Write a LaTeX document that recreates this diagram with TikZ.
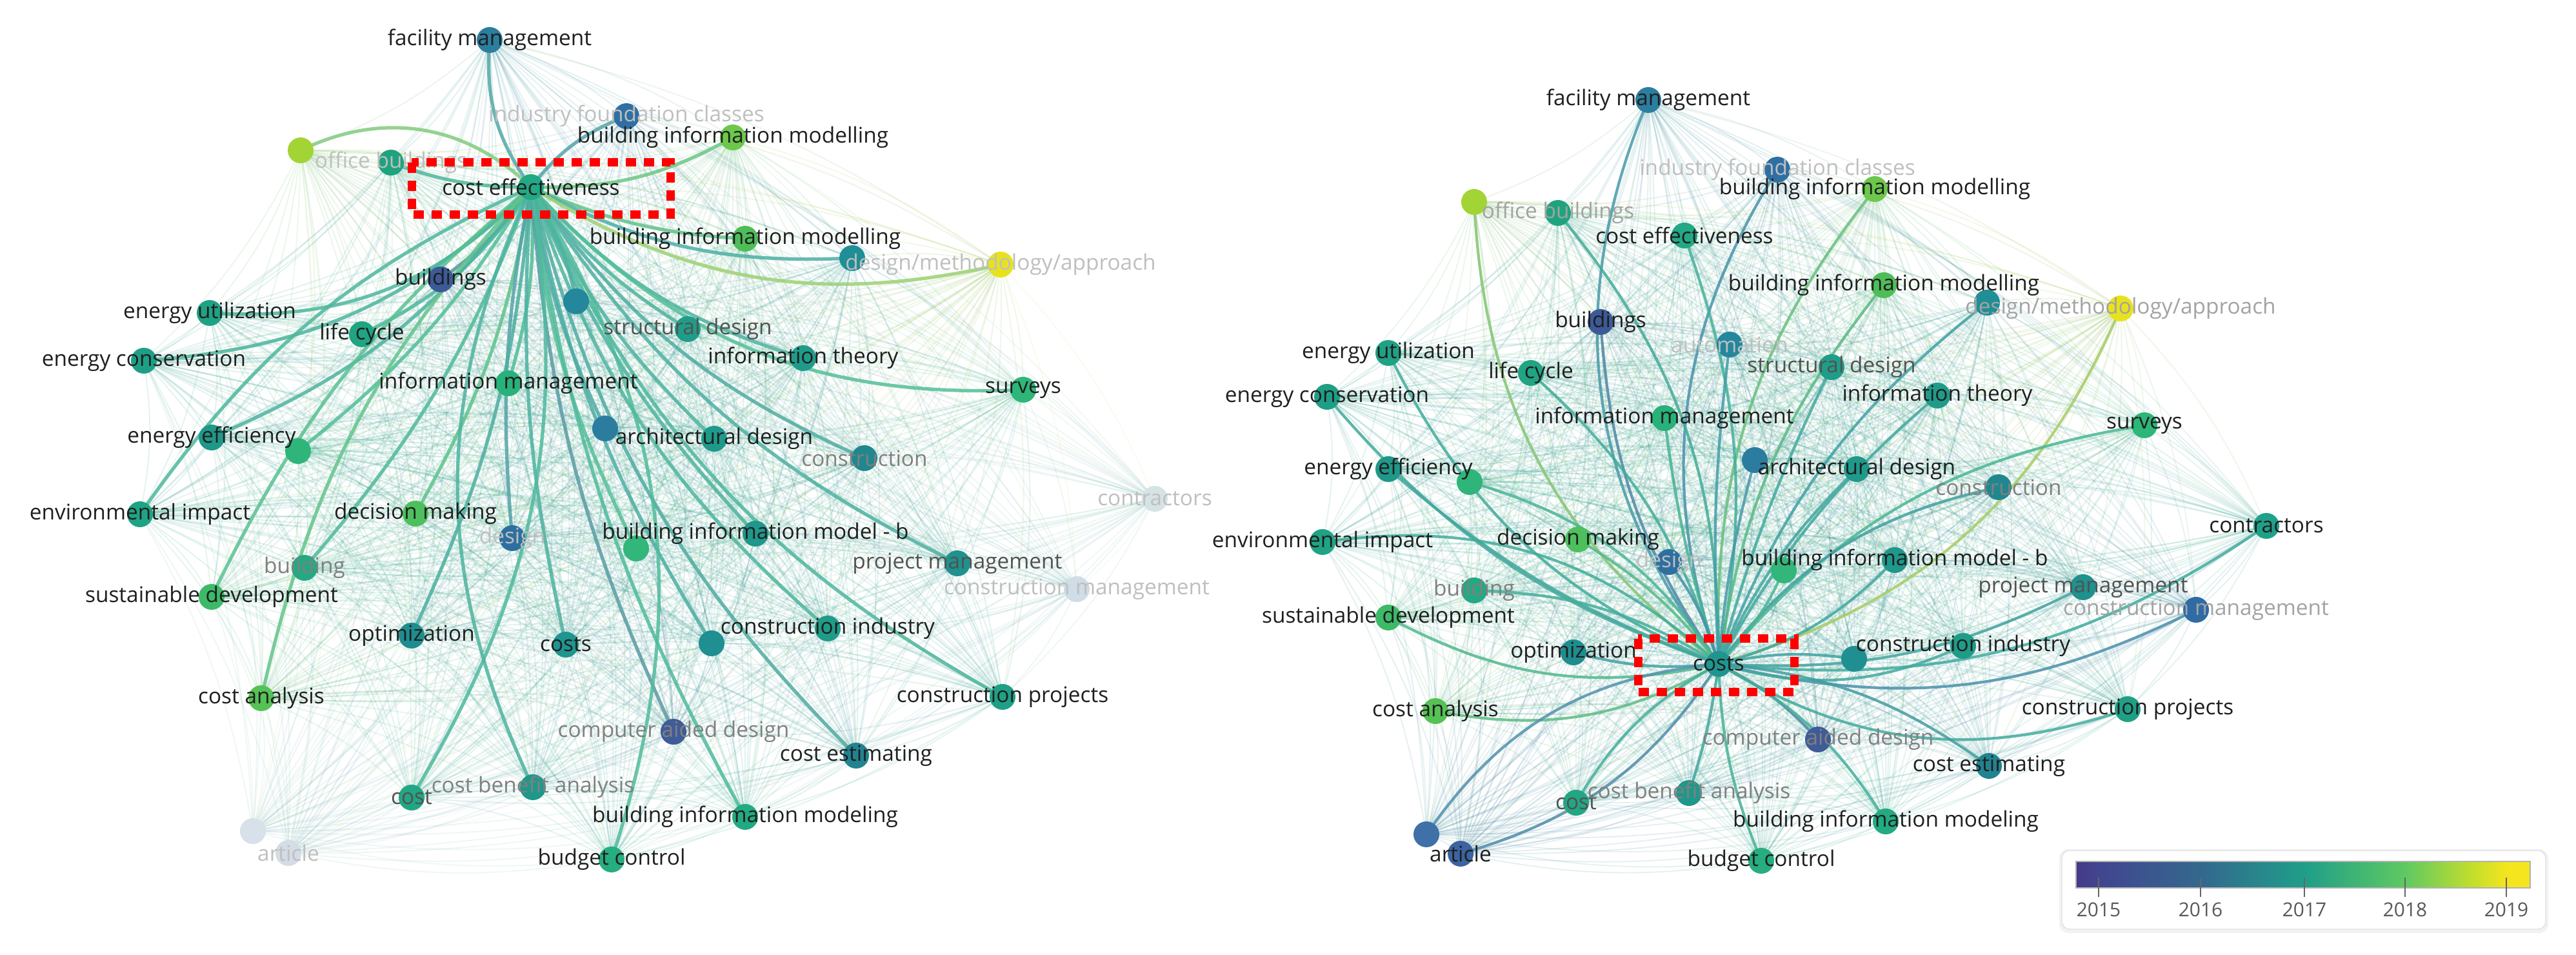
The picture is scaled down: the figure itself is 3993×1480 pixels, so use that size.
\documentclass[tikz,border=0pt]{standalone}
\usepackage{fontspec}
\setmainfont{Open Sans}
\pgfdeclarelayer{paper}\pgfdeclarelayer{mesh}\pgfdeclarelayer{bg}\pgfdeclarelayer{fg}
\pgfsetlayers{paper,mesh,bg,main,fg}
\definecolor{vA}{HTML}{453A88}
\definecolor{vB}{HTML}{42458F}
\definecolor{vC}{HTML}{33688E}
\definecolor{vD}{HTML}{1F9E89}
\definecolor{vE}{HTML}{5EC962}
\definecolor{vF}{HTML}{C8DF2A}
\definecolor{vG}{HTML}{F5E51F}
\pgfdeclarehorizontalshading{viridisbar}{100bp}{color(0bp)=(vA); color(25bp)=(vA); color(27.5bp)=(vB); color(38.7bp)=(vC); color(50.1bp)=(vD); color(61.2bp)=(vE); color(69bp)=(vF); color(72.5bp)=(vG); color(75bp)=(vG); color(100bp)=(vG)}
\newcommand\kw[7]{%
  \definecolor{c#1}{HTML}{#4}%
  \node[#7,fill=c#1] (#1) at (#2,#3) {};%
  \begin{pgfonlayer}{fg}\node[#6] (#1l) at (#2,#3) {#5};\end{pgfonlayer}%
}
\begin{document}
\begin{tikzpicture}[x=0.01cm,y=-0.01cm,
 dot/.style={circle,minimum size=0.40cm,inner sep=0pt,draw=none},
 lab/.style={font=\fontsize{9.5}{11}\selectfont,text=black!88,inner sep=0pt},
 labd/.style={lab,text=black!68},
 labg/.style={lab,text=black!50},
 labl/.style={lab,text=black!36},
 labf/.style={lab,text=black!25},
 meshline/.style={line width=0.55pt,opacity=0.12},
 hubL/.style={line width=1.5pt,opacity=0.85},
 hubR/.style={line width=1.2pt,opacity=0.85},
 redbox/.style={draw=red,line width=0.13cm,dash pattern=on 0.16cm off 0.12cm}]
\useasboundingbox (0,0) rectangle (3993,1480);
\begin{pgfonlayer}{paper}
\fill[white] (0,0) rectangle (3993,1480);
\end{pgfonlayer}

% ---------------- left network ----------------
\kw{Lfm}{759}{62}{2B7E9E}{facility management}{lab}{dot}
\kw{Lifc}{971}{180}{2F6FA3}{industry foundation classes}{labf}{dot}
\kw{Lbimt}{1136}{213}{6CC84A}{building information modelling}{lab}{dot}
\kw{Lob}{606}{252}{1FA37E}{office buildings}{labf}{dot}
\kw{Llime}{466}{233}{A3D435}{}{lab}{dot}
\kw{Lce}{823}{290}{22A884}{cost effectiveness}{lab}{dot}
\kw{Lbim2}{1155}{370}{4EBD58}{building information modelling}{lab}{dot}
\kw{Ldmt}{1321}{400}{1F8E96}{}{lab}{dot}
\kw{Ldma}{1551}{410}{E8E21C}{design/methodology/approach}{labf}{dot}
\kw{Lbld}{683}{433}{3D5A98}{buildings}{lab}{dot}
\kw{Laut}{893}{467}{24879C}{}{lab}{dot}
\kw{Leu}{325}{485}{1FA184}{energy utilization}{lab}{dot}
\kw{Llc}{561}{518}{20A483}{life cycle}{lab}{dot}
\kw{Lec}{223}{559}{1F9E86}{energy conservation}{lab}{dot}
\kw{Lim}{788}{594}{28B17A}{information management}{lab}{dot}
\kw{Lsd}{1066}{510}{1F9D88}{structural design}{labd}{dot}
\kw{Lit}{1245}{555}{1F9B89}{information theory}{lab}{dot}
\kw{Lsv}{1586}{604}{2DB678}{surveys}{lab}{dot}
\kw{Lee}{328}{678}{1F9889}{energy efficiency}{lab}{dot}
\kw{Lee2}{462}{699}{2FB57A}{}{lab}{dot}
\kw{Lbu}{938}{664}{2C7CA0}{}{lab}{dot}
\kw{Lad}{1107}{680}{1F998A}{architectural design}{lab}{dot}
\kw{Lcon}{1340}{710}{21878F}{construction}{labg}{dot}
\kw{Lctr}{1790}{773}{D5E3E4}{contractors}{labf}{dot}
\kw{Lei}{217}{797}{1FA385}{environmental impact}{lab}{dot}
\kw{Ldm}{644}{796}{4DBF5C}{decision making}{lab}{dot}
\kw{Ldes}{794}{834}{2E6FA0}{design}{labf}{dot}
\kw{Lbmb}{1171}{827}{1F978B}{building information model - b}{lab}{dot}
\kw{Lbmb2}{986}{850}{33B679}{}{lab}{dot}
\kw{Lbldg}{472}{880}{23A983}{building}{labg}{dot}
\kw{Lsdev}{328}{925}{3DBA68}{sustainable development}{lab}{dot}
\kw{Lpm}{1484}{873}{1F918E}{project management}{labd}{dot}
\kw{Lcm}{1669}{913}{D0DCE6}{construction management}{labf}{dot}
\kw{Lopt}{638}{985}{1F8D8F}{optimization}{lab}{dot}
\kw{Lcosts}{877}{999}{1F9590}{costs}{lab}{dot}
\kw{Lci2}{1103}{997}{1F8F92}{}{lab}{dot}
\kw{Lci}{1283}{974}{1F9C88}{construction industry}{lab}{dot}
\kw{Lca}{405}{1082}{55C255}{cost analysis}{lab}{dot}
\kw{Lcp}{1554}{1080}{1FA086}{construction projects}{lab}{dot}
\kw{Lcad}{1044}{1134}{3F5B98}{computer aided design}{labg}{dot}
\kw{Lcest}{1327}{1171}{21838F}{cost estimating}{lab}{dot}
\kw{Lcost}{638}{1236}{22A684}{cost}{labd}{dot}
\kw{Lcba}{826}{1220}{1F988A}{cost benefit analysis}{labg}{dot}
\kw{Lbimg}{1155}{1266}{22AA82}{building information modeling}{lab}{dot}
\kw{Lbc}{948}{1332}{26AD80}{budget control}{lab}{dot}
\kw{Lart1}{392}{1288}{D8E0EA}{}{lab}{dot}
\kw{Lart}{447}{1322}{D4DCE6}{article}{labf}{dot}

% ---------------- right network ----------------
\kw{Rfm}{2555}{155}{2B7E9E}{facility management}{lab}{dot}
\kw{Rifc}{2755}{263}{2F6FA3}{industry foundation classes}{labf}{dot}
\kw{Rbimt}{2906}{293}{6CC84A}{building information modelling}{lab}{dot}
\kw{Rlime}{2285}{313}{A3D435}{}{lab}{dot}
\kw{Rob}{2415}{330}{1FA37E}{office buildings}{labl}{dot}
\kw{Rce}{2611}{365}{22A884}{cost effectiveness}{lab}{dot}
\kw{Rbim2}{2920}{442}{4EBD58}{building information modelling}{lab}{dot}
\kw{Rdmt}{3080}{469}{1F8E96}{}{lab}{dot}
\kw{Rdma}{3287}{478}{E8E21C}{design/methodology/approach}{labl}{dot}
\kw{Rbld}{2481}{499}{3D5A98}{buildings}{lab}{dot}
\kw{Raut}{2681}{534}{24879C}{automation}{labf}{dot}
\kw{Reu}{2152}{547}{1FA184}{energy utilization}{lab}{dot}
\kw{Rlc}{2373}{578}{20A483}{life cycle}{lab}{dot}
\kw{Rsd}{2839}{569}{1F9D88}{structural design}{labd}{dot}
\kw{Rec}{2057}{615}{1F9E86}{energy conservation}{lab}{dot}
\kw{Rit}{3003}{613}{1F9B89}{information theory}{lab}{dot}
\kw{Rim}{2580}{648}{28B17A}{information management}{lab}{dot}
\kw{Rsv}{3324}{659}{2DB678}{surveys}{lab}{dot}
\kw{Ree}{2152}{727}{1F9889}{energy efficiency}{lab}{dot}
\kw{Ree2}{2278}{747}{2FB57A}{}{lab}{dot}
\kw{Rbu}{2720}{713}{2C7CA0}{}{lab}{dot}
\kw{Rad}{2878}{727}{1F998A}{architectural design}{lab}{dot}
\kw{Rcon}{3098}{755}{21878F}{construction}{labg}{dot}
\kw{Rctr}{3513}{815}{1FA089}{contractors}{lab}{dot}
\kw{Rei}{2050}{840}{1FA385}{environmental impact}{lab}{dot}
\kw{Rdm}{2446}{836}{4DBF5C}{decision making}{lab}{dot}
\kw{Rdes}{2587}{871}{2E6FA0}{design}{labf}{dot}
\kw{Rbmb}{2937}{868}{1F978B}{building information model - b}{lab}{dot}
\kw{Rbmb2}{2765}{884}{33B679}{}{lab}{dot}
\kw{Rbldg}{2285}{915}{23A983}{building}{labg}{dot}
\kw{Rsdev}{2152}{957}{3DBA68}{sustainable development}{lab}{dot}
\kw{Rpm}{3229}{910}{1F918E}{project management}{labd}{dot}
\kw{Rcm}{3404}{945}{2F6CA5}{construction management}{labl}{dot}
\kw{Ropt}{2439}{1011}{1F8D8F}{optimization}{lab}{dot}
\kw{Rcosts}{2664}{1029}{1F9590}{costs}{lab}{dot}
\kw{Rci2}{2874}{1021}{1F8F92}{}{lab}{dot}
\kw{Rci}{3043}{1001}{1F9C88}{construction industry}{lab}{dot}
\kw{Rca}{2225}{1102}{55C255}{cost analysis}{lab}{dot}
\kw{Rcp}{3298}{1099}{1FA086}{construction projects}{lab}{dot}
\kw{Rcad}{2818}{1146}{3F5B98}{computer aided design}{labg}{dot}
\kw{Rcest}{3083}{1187}{21838F}{cost estimating}{lab}{dot}
\kw{Rcost}{2443}{1244}{22A684}{cost}{labd}{dot}
\kw{Rcba}{2618}{1229}{1F988A}{cost benefit analysis}{labg}{dot}
\kw{Rbimg}{2923}{1273}{22AA82}{building information modeling}{lab}{dot}
\kw{Rbc}{2730}{1334}{26AD80}{budget control}{lab}{dot}
\kw{Rart1}{2211}{1293}{3F70A8}{}{lab}{dot}
\kw{Rart}{2264}{1323}{3B64A0}{article}{lab}{dot}

% ---------------- faint mesh of all links ----------------
\def\Llist{Lfm,Lifc,Lbimt,Lob,Llime,Lce,Lbim2,Ldmt,Ldma,Lbld,Laut,Leu,Llc,Lec,Lim,Lsd,Lit,Lsv,Lee,Lee2,Lbu,Lad,Lcon,Lctr,Lei,Ldm,Ldes,Lbmb,Lbmb2,Lbldg,Lsdev,Lpm,Lcm,Lopt,Lcosts,Lci2,Lci,Lca,Lcp,Lcad,Lcest,Lcost,Lcba,Lbimg,Lbc,Lart1,Lart}
\def\Rlist{Rfm,Rifc,Rbimt,Rlime,Rob,Rce,Rbim2,Rdmt,Rdma,Rbld,Raut,Reu,Rlc,Rsd,Rec,Rit,Rim,Rsv,Ree,Ree2,Rbu,Rad,Rcon,Rctr,Rei,Rdm,Rdes,Rbmb,Rbmb2,Rbldg,Rsdev,Rpm,Rcm,Ropt,Rcosts,Rci2,Rci,Rca,Rcp,Rcad,Rcest,Rcost,Rcba,Rbimg,Rbc,Rart1,Rart}
\begin{pgfonlayer}{mesh}
\foreach \a [count=\i] in \Llist {
  \foreach \b [count=\j] in \Llist {
    \ifnum\j>\i\relax
      \draw[meshline,draw=c\a!50!c\b] (\a.center) to[bend left=10] (\b.center);
    \fi
  }
}
\foreach \a [count=\i] in \Rlist {
  \foreach \b [count=\j] in \Rlist {
    \ifnum\j>\i\relax
      \draw[meshline,draw=c\a!50!c\b] (\a.center) to[bend left=10] (\b.center);
    \fi
  }
}
\end{pgfonlayer}

% ---------------- hub links ----------------
\begin{pgfonlayer}{bg}
\foreach \b/\ang in {Lfm/20,Lifc/15,Lbimt/-15,Lob/10,Llime/-35,Lbim2/-10,Ldmt/-15,Ldma/-22,Lbld/10,Laut/10,Leu/25,Llc/15,Lec/20,Lim/10,Lsd/-10,Lit/-15,Lsv/-25,Lee/15,Lee2/10,Lbu/-8,Lad/-10,Lcon/-15,Lei/-15,Ldm/10,Ldes/-8,Lbmb/-10,Lbmb2/-10,Lbldg/10,Lsdev/-12,Lpm/-15,Lopt/10,Lcosts/-8,Lci2/-10,Lci/-15,Lca/-15,Lcp/-18,Lcad/-10,Lcest/-15,Lcost/20,Lcba/-25,Lbimg/-10,Lbc/25}
  {\draw[hubL,draw=c\b!50!cLce!80!white] (Lce.center) to[bend left=\ang] (\b.center);}
\foreach \b/\ang in {Rfm/30,Rifc/25,Rbimt/20,Rlime/25,Rob/-20,Rce/-15,Rbim2/15,Rdmt/15,Rdma/-25,Rbld/15,Raut/5,Reu/20,Rlc/-15,Rsd/5,Rec/15,Rit/10,Rim/5,Rsv/20,Ree/10,Ree2/-20,Rbu/5,Rad/10,Rcon/20,Rctr/-20,Rei/-25,Rdm/-10,Rdes/-10,Rbmb/-15,Rbmb2/-10,Rbldg/-15,Rsdev/20,Rpm/-15,Rcm/-20,Ropt/10,Rci2/10,Rci/-20,Rca/20,Rcp/-25,Rcad/10,Rcest/15,Rcost/-15,Rcba/5,Rbimg/15,Rbc/-10,Rart1/-25,Rart/20}
  {\draw[hubR,draw=c\b!60!cRcosts!85!white] (Rcosts.center) to[bend left=\ang] (\b.center);}
\end{pgfonlayer}

% ---------------- red highlight boxes ----------------
\begin{pgfonlayer}{fg}
\draw[redbox] (638,252) rectangle (1039,333);
\draw[redbox] (2539,990) rectangle (2781,1073);
\end{pgfonlayer}

% ---------------- legend ----------------
\fill[black!5,rounded corners=0.14cm] (3192,1316) rectangle (3950,1446);
\filldraw[fill=white,draw=black!12,rounded corners=0.12cm] (3196,1318) rectangle (3946,1440);
\shade[shading=viridisbar] (3218,1335) rectangle (3922,1376);
\draw[black!30,line width=0.4pt] (3218,1335) rectangle (3922,1376);
\foreach \yr/\xx in {2015/3253,2016/3411,2017/3572,2018/3728,2019/3885} {
  \draw[black!60,line width=0.45pt] (\xx,1360) -- (\xx,1390);
  \node[font=\fontsize{8.5}{10}\selectfont,text=black!65,inner sep=0pt] (yr\yr) at (\xx,1410) {\yr};
}
\end{tikzpicture}
\end{document}
